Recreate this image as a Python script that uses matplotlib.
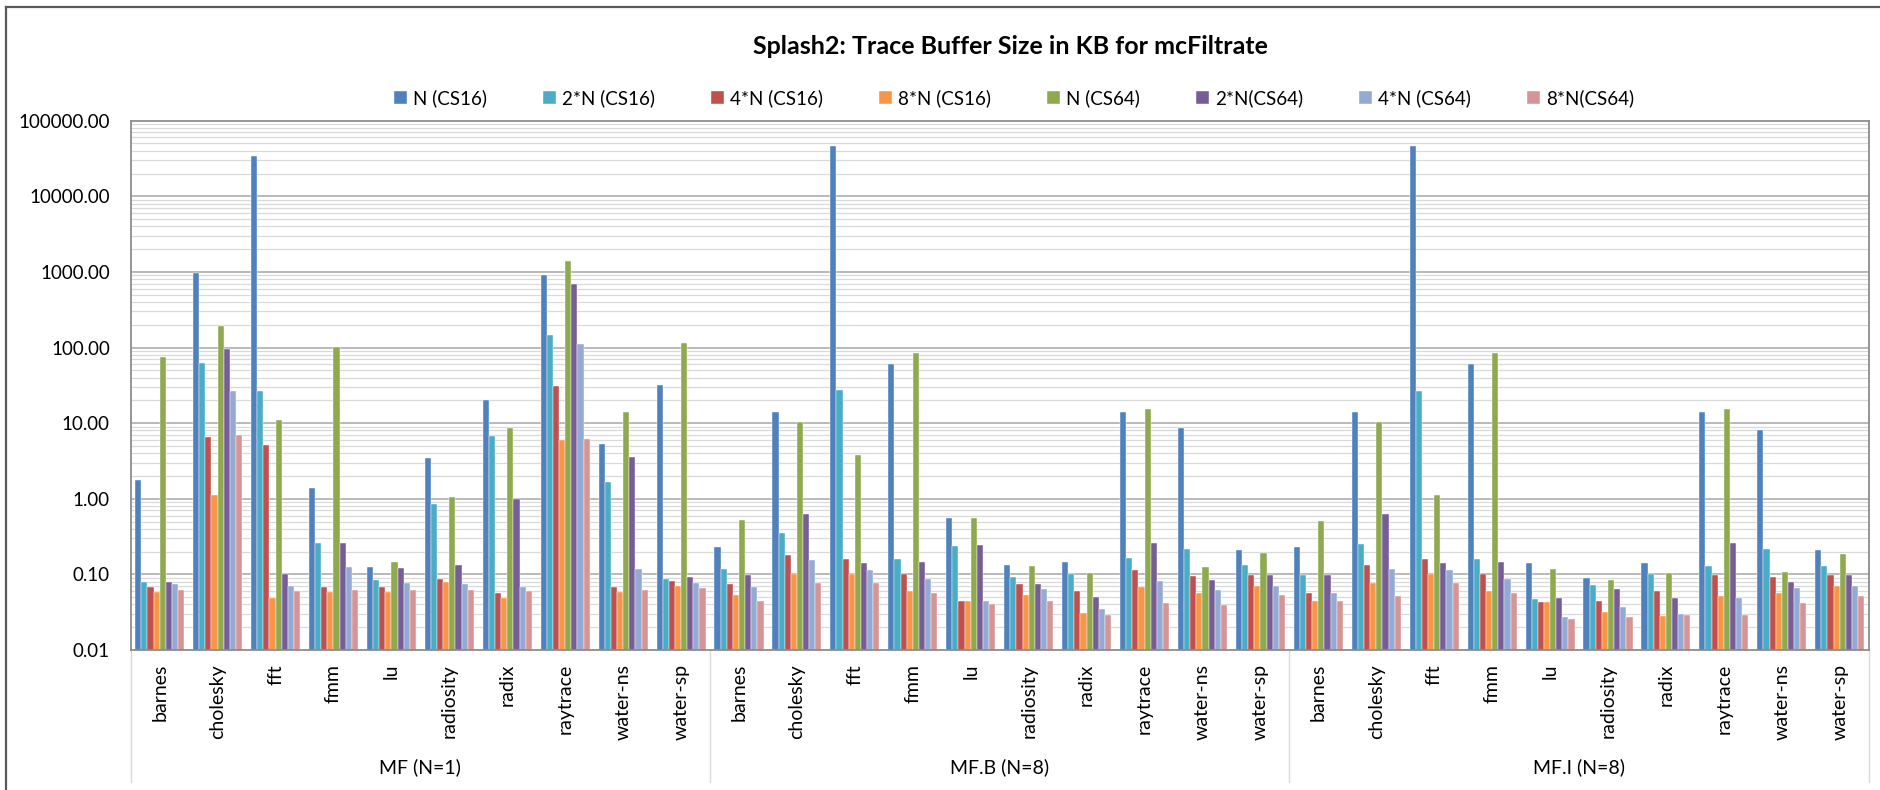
import numpy as np
import matplotlib.pyplot as plt
from matplotlib.lines import Line2D
from matplotlib.ticker import FixedLocator, FuncFormatter, NullFormatter

plt.rcParams['font.family'] = ['Lato', 'DejaVu Sans']

# Benchmarks, repeated for each filter configuration
benchmarks = ['barnes', 'cholesky', 'fft', 'fmm', 'lu', 'radiosity', 'radix',
              'raytrace', 'water-ns', 'water-sp']
groups = ['MF (N=1)', 'MF.B (N=8)', 'MF.I (N=8)']

series_names = ['N (CS16)', '2*N (CS16)', '4*N (CS16)', '8*N (CS16)',
                'N (CS64)', '2*N(CS64)', '4*N (CS64)', '8*N(CS64)']

# Trace buffer size in KB, order: MF, MF.B, MF.I (10 benchmarks each)
n_cs16 = [1.76, 957, 33700, 1.37, 0.124, 3.5, 20.3, 897, 5.3, 32,
          0.228, 14.2, 46200, 61, 0.56, 0.133, 0.145, 14.2, 8.7, 0.209,
          0.228, 14.2, 46200, 61, 0.143, 0.089, 0.143, 14.2, 8.0, 0.209]
n2_cs16 = [0.08, 62, 26.6, 0.26, 0.085, 0.84, 6.7, 146, 1.65, 0.088,
           0.119, 0.348, 27.2, 0.161, 0.236, 0.091, 0.1, 0.165, 0.216, 0.133,
           0.097, 0.249, 27, 0.161, 0.047, 0.072, 0.1, 0.13, 0.216, 0.13]
n4_cs16 = [0.069, 6.5, 5.15, 0.069, 0.069, 0.088, 0.057, 31, 0.069, 0.082,
           0.075, 0.18, 0.161, 0.1, 0.044, 0.075, 0.06, 0.114, 0.094, 0.099,
           0.057, 0.133, 0.161, 0.1, 0.043, 0.044, 0.06, 0.097, 0.093, 0.099]
n8_cs16 = [0.059, 1.13, 0.049, 0.059, 0.059, 0.079, 0.049, 6.07, 0.059, 0.071,
           0.054, 0.101, 0.101, 0.061, 0.044, 0.054, 0.031, 0.068, 0.056, 0.071,
           0.044, 0.077, 0.1, 0.061, 0.043, 0.0316, 0.028, 0.052, 0.056, 0.071]
n_cs64 = [74.6, 192, 10.9, 101, 0.145, 1.06, 8.7, 1415, 14.2, 115,
          0.527, 10.3, 3.8, 84, 0.56, 0.13, 0.104, 15.6, 0.124, 0.192,
          0.505, 10.3, 1.13, 84, 0.118, 0.084, 0.104, 15.6, 0.107, 0.186]
n2_cs64 = [0.079, 96, 0.1, 0.26, 0.123, 0.133, 1.0, 691, 3.56, 0.093,
           0.099, 0.626, 0.14, 0.146, 0.246, 0.075, 0.05, 0.263, 0.084, 0.097,
           0.097, 0.626, 0.14, 0.146, 0.048, 0.065, 0.048, 0.263, 0.079, 0.097]
n4_cs64 = [0.074, 27, 0.07, 0.124, 0.077, 0.074, 0.069, 113, 0.119, 0.077,
           0.068, 0.155, 0.113, 0.088, 0.044, 0.065, 0.0345, 0.082, 0.063, 0.07,
           0.056, 0.119, 0.114, 0.088, 0.0275, 0.037, 0.0296, 0.049, 0.067, 0.07]
n8_cs64 = [0.063, 7.06, 0.06, 0.063, 0.063, 0.063, 0.06, 6.1, 0.063, 0.067,
           0.044, 0.078, 0.077, 0.056, 0.041, 0.045, 0.029, 0.042, 0.039, 0.053,
           0.044, 0.052, 0.077, 0.056, 0.026, 0.0275, 0.029, 0.029, 0.042, 0.052]

series = [n_cs16, n2_cs16, n4_cs16, n8_cs16, n_cs64, n2_cs64, n4_cs64, n8_cs64]
colors = ['#4F81BD', '#4BACC6', '#C0504D', '#F79646',
          '#8FAA4E', '#775D98', '#95AAD3', '#D69594']

W, H = 1880, 790
fig = plt.figure(figsize=(W / 100, H / 100), dpi=100)
ax = fig.add_axes([130.7 / W, 1 - 650 / H, (1868.7 - 130.7) / W, (650 - 120.7) / H])

ax.set_yscale('log')
ax.set_ylim(0.01, 100000)
n_cat = len(benchmarks) * len(groups)
ax.set_xlim(-0.5, n_cat - 0.5)

# Grid first so the bars sit on top of it
decades = [10.0 ** k for k in range(-2, 6)]
minors = [m * d for d in decades[:-1] for m in range(2, 10)]
for v in minors:
    ax.axhline(v, color='#D9D9D9', lw=0.9, zorder=0)
for v in decades[1:-1]:
    ax.axhline(v, color='#A6A6A6', lw=1.1, zorder=0)

x = np.arange(n_cat)
bw = 0.1058
for i, (vals, name, c) in enumerate(zip(series, series_names, colors)):
    ax.bar(x + (i - 3.5) * bw, vals, width=bw, color=c, label=name,
           edgecolor='white', linewidth=0.3, zorder=2)

ax.yaxis.set_major_locator(FixedLocator(decades))
ax.yaxis.set_major_formatter(FuncFormatter(lambda v, p: f'{v:.2f}'))
ax.yaxis.set_minor_formatter(NullFormatter())
ax.tick_params(axis='y', which='both', length=0, pad=15, labelsize=13.5)

ax.set_xticks(x)
ax.set_xticklabels(benchmarks * len(groups), rotation=90, fontsize=14)
ax.tick_params(axis='x', length=0, pad=10)

for s in ax.spines.values():
    s.set_color('#8C8C8C')
    s.set_linewidth(1.3)

# Group separators and group names below the category labels
trans = ax.get_xaxis_transform()
y_sep = (650 - 782) / (650 - 120.7)
for k in range(len(groups) + 1):
    xs = k * len(benchmarks) - 0.5
    ax.add_line(Line2D([xs, xs], [0, y_sep], transform=trans, color='#D9D9D9',
                       lw=1.0, clip_on=False))
y_grp = (650 - 767) / (650 - 120.7)
for k, g in enumerate(groups):
    ax.text(k * len(benchmarks) + 4.5, y_grp, g, transform=trans,
            ha='center', va='center', fontsize=14)

fig.text(1010 / W, 1 - 47 / H, 'Splash2: Trace Buffer Size in KB for mcFiltrate',
         ha='center', va='center', fontsize=18, fontweight='bold')

fig.legend(loc='center', bbox_to_anchor=(1014 / W, 1 - 98 / H), ncol=8,
           frameon=False, fontsize=13.5, handlelength=0.7, handleheight=0.7,
           handletextpad=0.35, columnspacing=2.95)

# Chart border (left and top edges)
fig.add_artist(Line2D([6 / W, 6 / W], [0, 1 - 6.5 / H], color='#595959', lw=1.6))
fig.add_artist(Line2D([6 / W, 1], [1 - 6.5 / H, 1 - 6.5 / H], color='#595959', lw=1.6))

fig.savefig('out.png', dpi=100)
